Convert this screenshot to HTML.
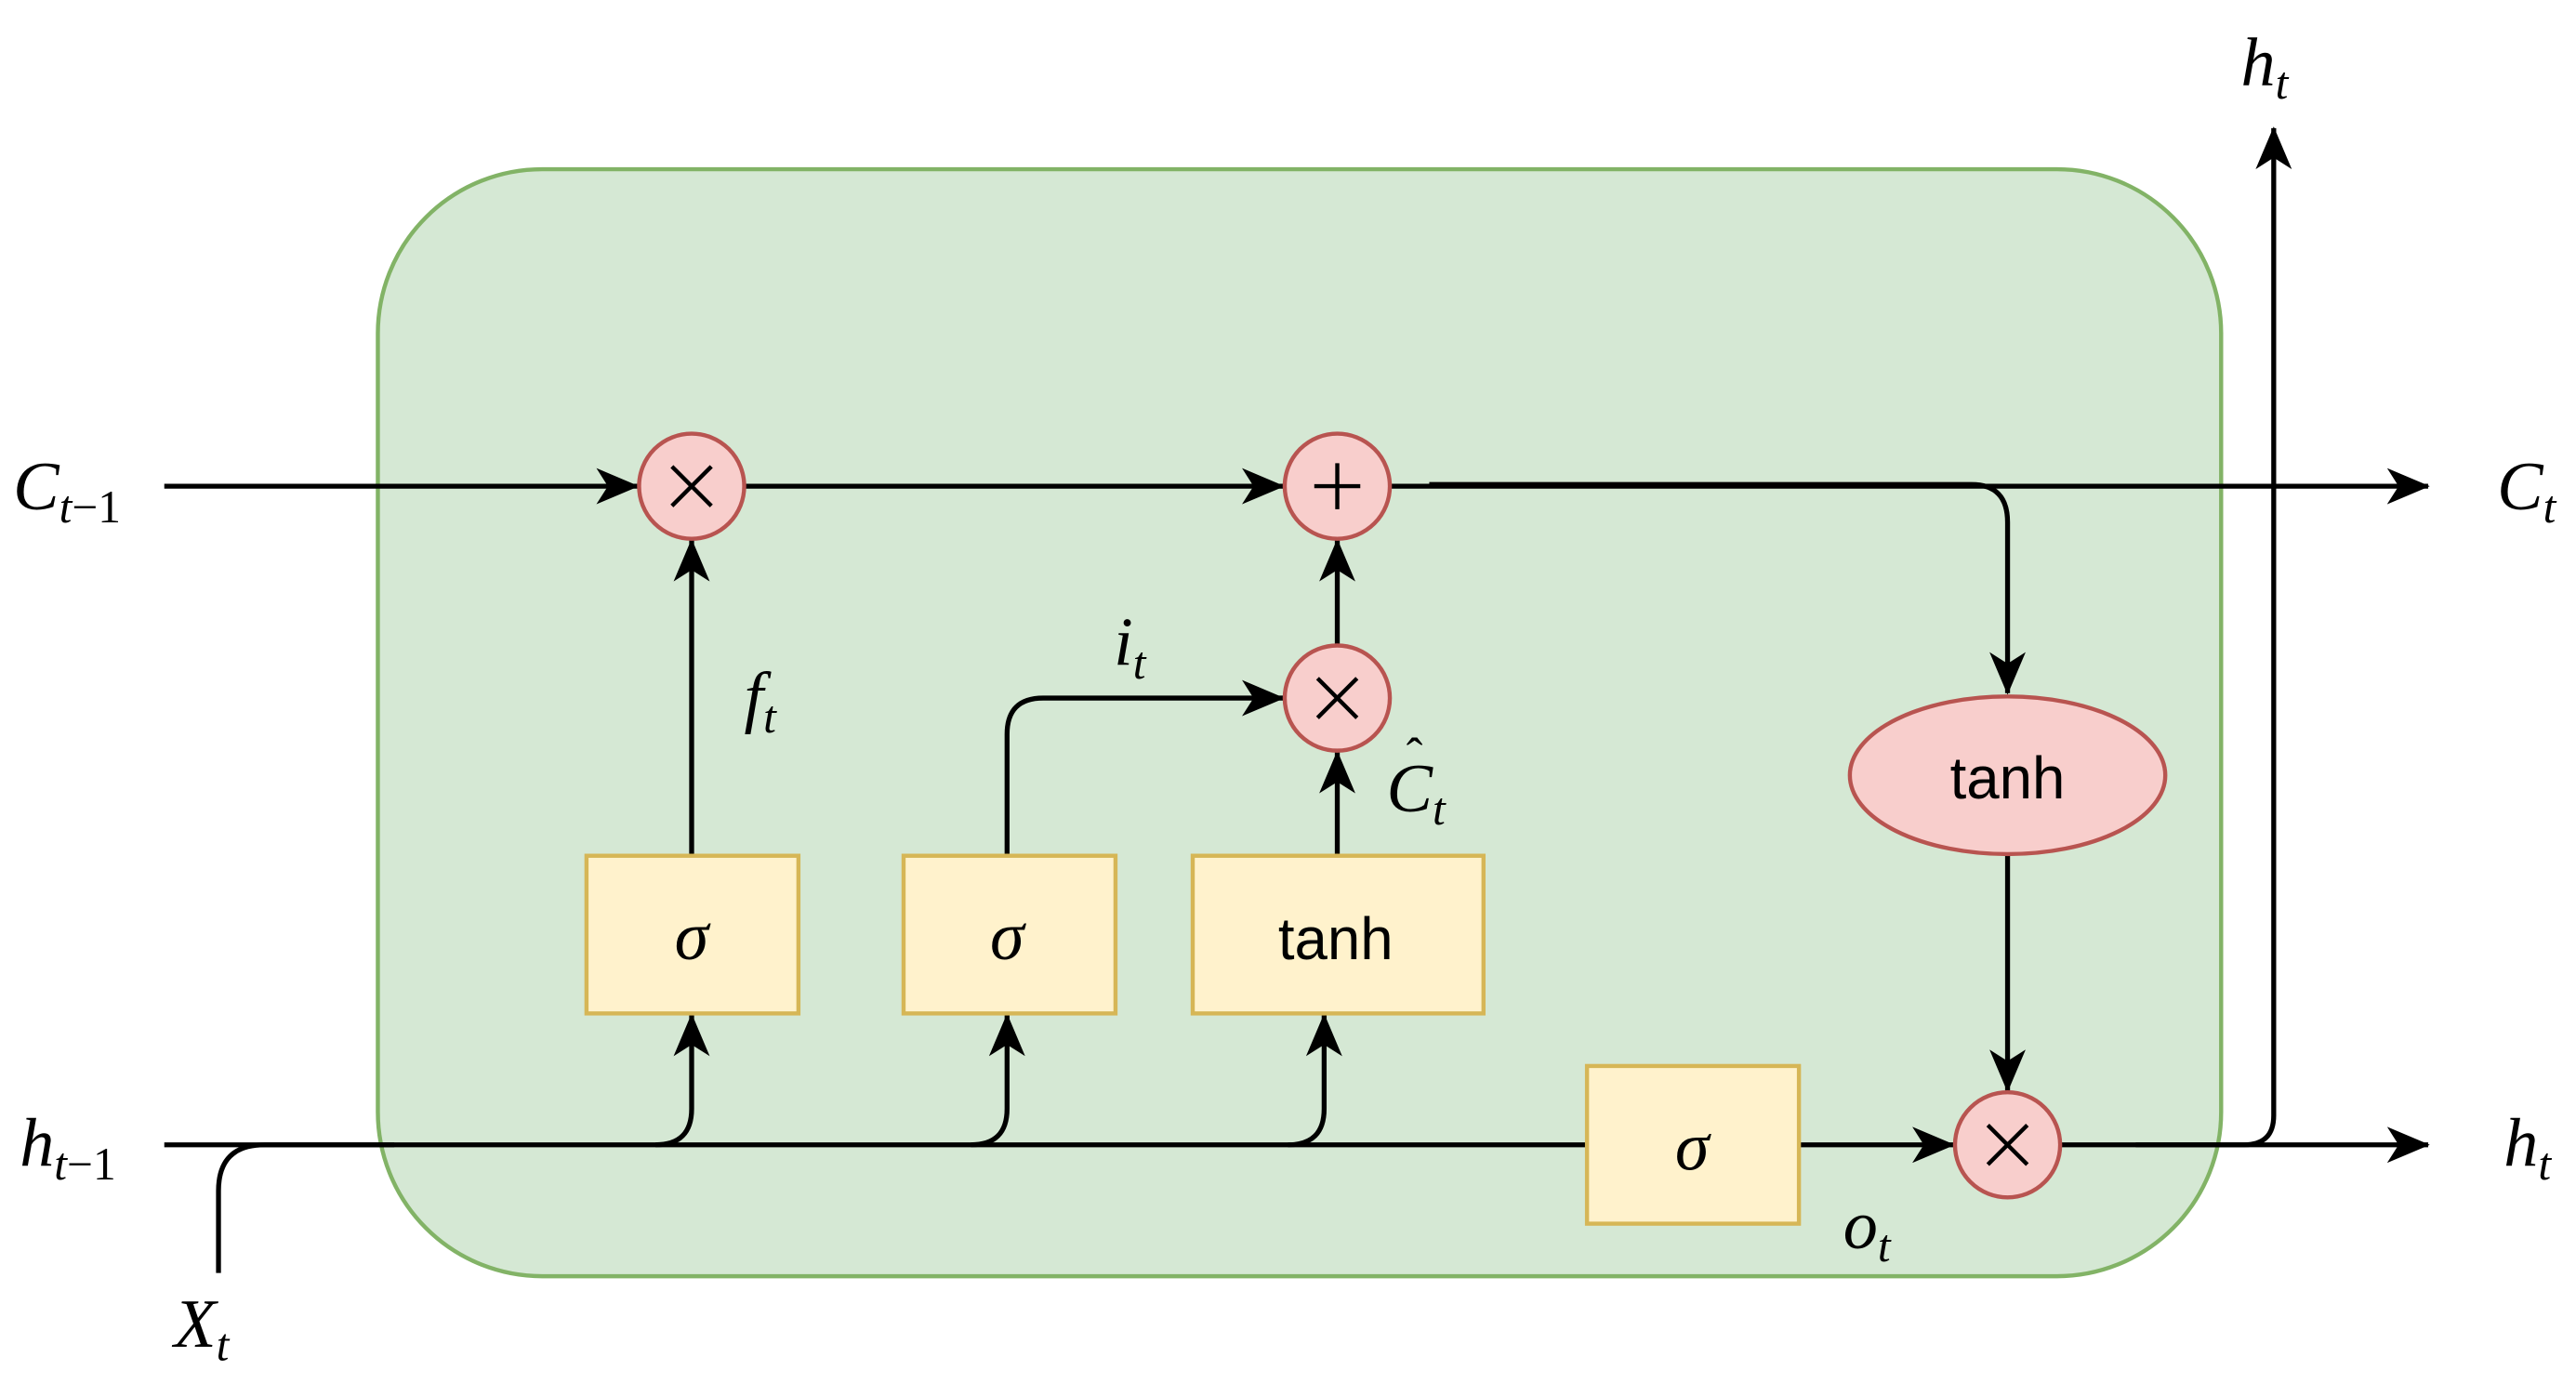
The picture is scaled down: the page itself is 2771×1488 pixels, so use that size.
<!DOCTYPE html>
<html><head><style>html,body{margin:0;padding:0;background:#fff;}svg{display:block}</style></head>
<body>
<svg width="2771" height="1488" viewBox="0 0 1568 842" preserveAspectRatio="none" xmlns="http://www.w3.org/2000/svg">
<defs>
<marker id="a" viewBox="0 0 26 22" refX="25" refY="11" markerWidth="26" markerHeight="22" markerUnits="userSpaceOnUse" orient="auto">
<path d="M0,0 L26,11 L0,22 L7,11 Z" fill="#000"/>
</marker>
</defs>
<rect x="230" y="103" width="1122" height="674" rx="100" ry="100" fill="#d5e8d4" stroke="#82b366" stroke-width="2.5"/>
<g fill="none" stroke="#000" stroke-width="3">
<line x1="100" y1="296" x2="388" y2="296" marker-end="url(#a)"/>
<line x1="453" y1="296" x2="781" y2="296" marker-end="url(#a)"/>
<line x1="846" y1="296" x2="1478" y2="296" marker-end="url(#a)"/>
<path d="M870,295 L1200,295 Q1222,295 1222,318 L1222,422" marker-end="url(#a)"/>
<line x1="1222" y1="520" x2="1222" y2="664" marker-end="url(#a)"/>
<line x1="421" y1="521" x2="421" y2="329" marker-end="url(#a)"/>
<path d="M613,521 L613,447 Q613,425 635,425 L781,425" marker-end="url(#a)"/>
<line x1="814" y1="393" x2="814" y2="329" marker-end="url(#a)"/>
<line x1="814" y1="521" x2="814" y2="458" marker-end="url(#a)"/>
<line x1="100" y1="697" x2="966" y2="697"/>
<path d="M399,697 Q421,697 421,675 L421,618" marker-end="url(#a)"/>
<path d="M591,697 Q613,697 613,675 L613,618" marker-end="url(#a)"/>
<path d="M784,697 Q806,697 806,675 L806,618" marker-end="url(#a)"/>
<path d="M133,775 L133,725 Q133,697 161,697 L240,697"/>
<line x1="1095" y1="697" x2="1189" y2="697" marker-end="url(#a)"/>
<line x1="1254" y1="697" x2="1478" y2="697" marker-end="url(#a)"/>
<path d="M1300,697 L1366,697 Q1384,697 1384,679 L1384,78" marker-end="url(#a)"/>
</g>
<g fill="#fff2cc" stroke="#d6b656" stroke-width="2.5">
<rect x="357" y="521" width="129" height="96"/>
<rect x="550" y="521" width="129" height="96"/>
<rect x="726" y="521" width="177" height="96"/>
<rect x="966" y="649" width="129" height="96"/>
</g>
<g fill="#f8cecc" stroke="#b85450" stroke-width="2.5">
<ellipse cx="421" cy="296" rx="32" ry="32"/>
<ellipse cx="814" cy="296" rx="32" ry="32"/>
<ellipse cx="814" cy="425" rx="32" ry="32"/>
<ellipse cx="1222" cy="697" rx="32" ry="32"/>
<ellipse cx="1222" cy="472" rx="96" ry="48"/>
</g>
<g stroke="#000" stroke-width="2.5">
<path d="M409,284 L433,308 M433,284 L409,308"/>
<path d="M802,413 L826,437 M826,413 L802,437"/>
<path d="M1210,685 L1234,709 M1234,685 L1210,709"/>
<path d="M814,282 L814,310 M800,296 L828,296"/>
</g>
<g font-family="Liberation Sans, sans-serif" font-size="36" text-anchor="middle" fill="#000">
<text x="813" y="584">tanh</text>
<text x="1222" y="486">tanh</text>
</g>
<g font-family="Liberation Serif, serif" font-style="italic" font-size="42" fill="#000">
<text x="421" y="584" text-anchor="middle">σ</text>
<text x="613" y="584" text-anchor="middle">σ</text>
<text x="1030" y="712" text-anchor="middle">σ</text>
<text x="8" y="310">C<tspan font-size="28" dy="8">t</tspan><tspan font-style="normal" font-size="28">−1</tspan></text>
<text x="1520" y="310">C<tspan font-size="28" dy="8">t</tspan></text>
<text x="12" y="710">h<tspan font-size="28" dy="8">t</tspan><tspan font-style="normal" font-size="28">−1</tspan></text>
<text x="1524" y="710">h<tspan font-size="28" dy="8">t</tspan></text>
<text x="1364" y="52">h<tspan font-size="28" dy="8">t</tspan></text>
<text x="106" y="820">X<tspan font-size="28" dy="8">t</tspan></text>
<text x="453" y="438">f<tspan font-size="28" dy="8">t</tspan></text>
<text x="678" y="405">i<tspan font-size="28" dy="8">t</tspan></text>
<text x="844" y="494">C<tspan font-size="28" dy="8">t</tspan></text>
<text x="856" y="470" font-style="normal" font-size="30">ˆ</text>
<text x="1122" y="760">o<tspan font-size="28" dy="8">t</tspan></text>
</g>
</svg>
</body></html>
